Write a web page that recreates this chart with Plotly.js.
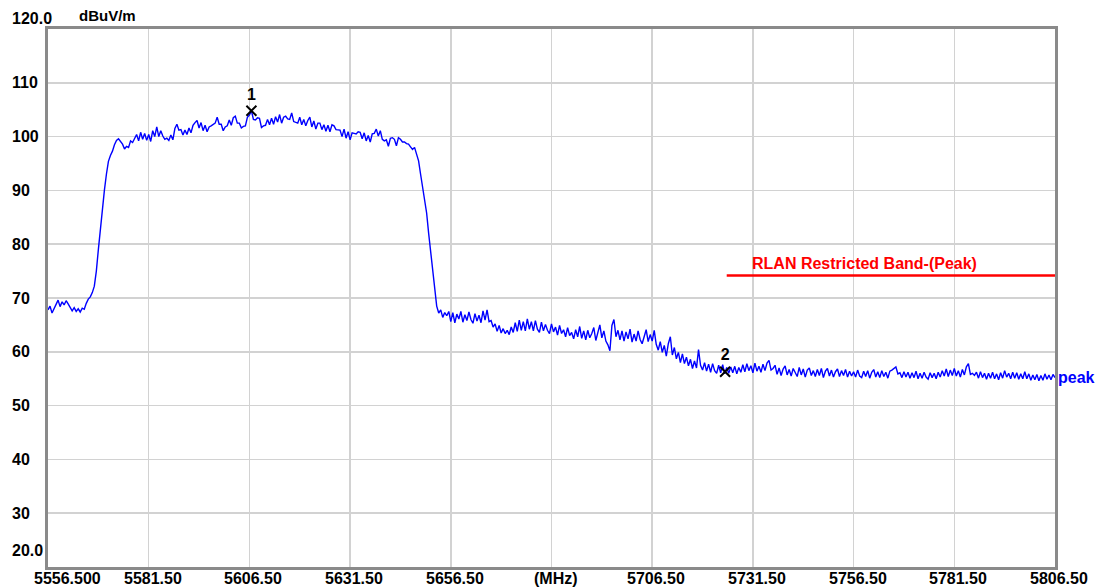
<!DOCTYPE html>
<html>
<head>
<meta charset="utf-8">
<script src="https://cdn.plot.ly/plotly-3.0.1.min.js"></script>
<style>html,body{margin:0;padding:0;background:#fff;}#chart{width:1099px;height:587px;}</style>
</head>
<body>
<div id="chart"></div>
<script>
// ---- data ----
const startFreq = 5556.5;   // MHz
const stepFreq = 0.5;       // MHz
const peakLevel = [
  67.8,68.5,67.2,68.0,68.9,69.6,68.4,69.3,68.7,69.5,68.9,68.1,67.6,68.2,67.5,68.0,67.4,68.1,67.9,69.0,
  69.8,70.2,71.0,72.2,75.0,79.0,83.0,87.0,90.0,93.0,95.4,96.5,97.3,98.5,99.3,99.6,99.0,98.6,97.7,98.2,
  98.0,99.2,98.9,99.6,100.4,99.2,100.8,99.5,100.6,99.3,100.4,99.1,101.1,100.0,101.8,100.0,101.1,100.1,99.5,99.7,
  99.3,100.3,99.4,101.5,102.3,101.2,101.3,100.3,101.2,100.4,101.6,100.7,102.1,102.6,103.0,101.6,102.6,101.1,102.1,100.9,
  101.8,102.0,102.2,102.5,103.6,102.3,102.3,101.1,101.8,102.0,103.1,102.1,103.5,103.8,102.5,102.5,101.6,101.9,102.0,103.6,
  104.0,104.8,103.2,103.1,103.5,103.4,101.7,102.0,102.1,103.2,102.2,103.4,102.3,103.7,102.7,104.1,102.5,103.6,103.8,103.3,
  103.2,104.4,102.8,102.7,102.5,103.6,102.2,103.2,102.0,103.0,103.6,101.8,102.9,101.4,102.5,102.5,101.3,102.2,101.0,102.1,
  100.9,102.2,102.0,101.3,101.3,101.2,100.0,101.4,99.7,100.9,99.4,100.7,100.6,100.5,100.9,100.8,99.6,100.7,99.2,100.2,
  99.0,100.5,100.6,101.4,100.1,101.1,99.5,99.2,99.4,98.2,99.7,99.8,99.5,98.3,99.8,99.5,99.0,99.0,98.7,98.6,
  98.1,97.6,98.0,96.8,95.5,93.0,90.5,88.2,85.8,82.0,78.5,74.8,71.2,68.5,67.2,67.8,66.4,67.3,66.7,67.5,
  65.6,67.3,65.4,67.0,66.1,67.5,65.5,66.9,65.8,67.4,66.0,65.3,67.1,65.7,66.8,65.4,67.6,65.9,67.8,65.6,
  65.8,64.6,65.2,63.8,64.9,63.5,64.3,63.4,64.0,63.2,64.6,63.6,65.4,63.8,65.9,64.0,65.6,63.9,66.1,64.2,
  65.6,63.9,65.8,64.2,63.6,65.5,63.9,65.1,64.0,63.4,65.2,63.7,64.6,63.1,64.9,63.4,64.1,62.8,64.5,63.0,
  63.6,62.4,64.1,62.8,64.7,62.5,63.9,62.2,64.0,62.6,63.4,64.5,62.1,63.8,65.0,62.6,63.9,62.0,61.3,60.2,
  64.9,66.0,62.8,64.0,62.2,63.9,62.0,63.7,62.4,64.2,61.8,63.3,62.0,63.9,62.3,61.5,63.0,64.1,61.9,63.2,
  62.0,64.0,61.4,60.3,61.9,59.9,61.2,59.2,61.5,62.8,59.4,60.8,58.7,59.9,58.0,59.6,57.8,59.0,57.4,58.6,
  56.9,58.3,57.0,60.4,57.5,56.6,58.0,56.4,57.7,56.2,57.8,56.5,56.0,57.5,56.1,57.6,55.9,57.1,56.0,57.2,
  56.1,57.3,55.9,57.1,56.2,57.6,56.3,57.8,56.5,57.4,56.1,57.9,56.4,57.3,56.2,57.7,56.5,57.9,58.4,56.6,
  56.9,57.5,55.8,57.0,55.6,56.8,57.4,55.7,56.7,55.5,56.9,56.0,55.4,57.1,55.7,56.8,55.3,56.6,57.0,55.6,
  56.5,55.4,56.7,55.6,56.9,55.2,56.4,56.9,55.5,56.6,55.3,56.3,56.8,55.4,56.5,55.6,56.7,55.3,56.4,55.5,
  56.3,55.3,56.6,55.5,55.2,56.4,55.4,56.5,55.1,56.2,56.7,55.3,56.3,55.2,56.5,55.4,56.2,55.1,56.4,56.6,
  56.9,57.2,55.9,56.1,55.2,56.3,55.3,56.2,55.1,56.1,55.2,56.4,55.0,56.0,55.1,56.2,55.3,54.9,56.1,55.2,
  56.0,55.0,56.2,55.3,56.5,55.5,56.8,55.4,56.6,55.6,56.9,55.5,56.5,55.3,56.7,55.7,57.2,57.8,55.8,56.0,
  55.6,56.2,55.1,56.3,55.2,56.0,54.9,56.0,55.1,56.2,55.0,55.9,54.8,56.1,55.1,56.5,55.3,56.0,55.0,56.2,
  55.1,56.1,54.9,55.9,55.0,56.3,55.0,55.9,54.7,55.7,54.8,55.8,54.6,55.6,54.7,55.9,54.9,55.7,54.8,55.8,
  55.2
];
const peakFreq = peakLevel.map((_, i) => startFreq + i * stepFreq);

const limitFreq = [5725.0, 5806.5];
const limitLevel = [74.2, 74.2];
const limitName = "RLAN Restricted Band-(Peak)";

const markerFreq = [5607.0, 5724.6];
const markerLevel = [104.8, 56.3];
const markerLabel = ["1", "2"];

const xTickVals = [5556.5, 5581.5, 5606.5, 5631.5, 5656.5, 5681.5, 5706.5, 5731.5, 5756.5, 5781.5, 5806.5];
const xTickText = ["5556.500", "5581.50", "5606.50", "5631.50", "5656.50", "(MHz)", "5706.50", "5731.50", "5756.50", "5781.50", "5806.50"];
const yTickVals = [30, 40, 50, 60, 70, 80, 90, 100, 110];
const yTickText = ["30", "40", "50", "60", "70", "80", "90", "100", "110"];
const yUnit = "dBuV/m";
const yTopText = "120.0";
const yBottomText = "20.0";
const traceName = "peak";

// ---- chart ----
const FONT = "Liberation Sans, Arial, sans-serif";
const plotW = 1099 - 48 - 44;
const lblX = -38 / plotW;

const annotations = [];
xTickVals.forEach((v, i) => {
  annotations.push({
    x: v, xref: "x", y: 0, yref: "paper", yanchor: "top",
    xanchor: "center", xshift: i === 0 ? 19 : 4, yshift: -1,
    text: xTickText[i], showarrow: false,
    font: {family: FONT, size: 16, color: "#000", weight: "bold"}
  });
});
yTickVals.forEach((v, i) => {
  annotations.push({
    x: lblX, xref: "paper", y: v, yref: "y", xanchor: "left", yanchor: "middle",
    text: yTickText[i], showarrow: false,
    font: {family: FONT, size: 16, color: "#000", weight: "bold"}
  });
});
annotations.push({x: lblX, xref: "paper", y: 120, yref: "y", xanchor: "left", yanchor: "middle", yshift: 11,
  text: yTopText, showarrow: false, font: {family: FONT, size: 16, color: "#000", weight: "bold"}});
annotations.push({x: lblX, xref: "paper", y: 20, yref: "y", xanchor: "left", yanchor: "middle", yshift: 17,
  text: yBottomText, showarrow: false, font: {family: FONT, size: 16, color: "#000", weight: "bold"}});
annotations.push({x: 29 / plotW, xref: "paper", y: 120, yref: "y", xanchor: "left", yanchor: "middle", yshift: 14,
  text: yUnit, showarrow: false, font: {family: FONT, size: 15, color: "#000", weight: "bold"}});
annotations.push({x: (limitFreq[0] + limitFreq[1]) / 2 - 6.5, xref: "x", y: limitLevel[0], yref: "y",
  xanchor: "center", yanchor: "bottom", yshift: 1,
  text: limitName, showarrow: false, font: {family: FONT, size: 16, color: "#ff0000", weight: "bold"}});
annotations.push({x: peakFreq[peakFreq.length - 1], xref: "x", y: peakLevel[peakLevel.length - 1], yref: "y",
  xanchor: "left", yanchor: "middle", xshift: 1,
  text: traceName, showarrow: false, font: {family: FONT, size: 16, color: "#0000ff", weight: "bold"}});

const data = [
  {x: peakFreq, y: peakLevel, type: "scatter", mode: "lines",
   line: {color: "#0000ff", width: 1.4}, hoverinfo: "skip"},
  {x: limitFreq, y: limitLevel, type: "scatter", mode: "lines",
   line: {color: "#ff0000", width: 2.5}, hoverinfo: "skip"},
  {x: markerFreq, y: markerLevel, type: "scatter", mode: "markers+text",
   text: markerLabel, textposition: "top center",
   textfont: {family: FONT, size: 16, color: "#000", weight: "bold"},
   marker: {symbol: "x-thin-open", size: 10, color: "#000", line: {color: "#000", width: 2}},
   hoverinfo: "skip"}
];

const layout = {
  width: 1099, height: 587,
  margin: {l: 48, r: 44, t: 29, b: 20, pad: 0},
  paper_bgcolor: "#fff", plot_bgcolor: "#fff",
  showlegend: false,
  xaxis: {range: [5556.5, 5806.5], tickvals: xTickVals, showticklabels: false, ticks: "",
          showgrid: true, gridcolor: "#d2d2d2", gridwidth: 1.5, zeroline: false,
          showline: true, linecolor: "#8a8a8a", linewidth: 3, mirror: true, fixedrange: true},
  yaxis: {range: [20, 120], tickvals: yTickVals, showticklabels: false, ticks: "",
          showgrid: true, gridcolor: "#d2d2d2", gridwidth: 1.5, zeroline: false,
          showline: true, linecolor: "#8a8a8a", linewidth: 3, mirror: true, fixedrange: true},
  annotations: annotations
};

Plotly.newPlot("chart", data, layout, {displayModeBar: false, staticPlot: true});
</script>
</body>
</html>
